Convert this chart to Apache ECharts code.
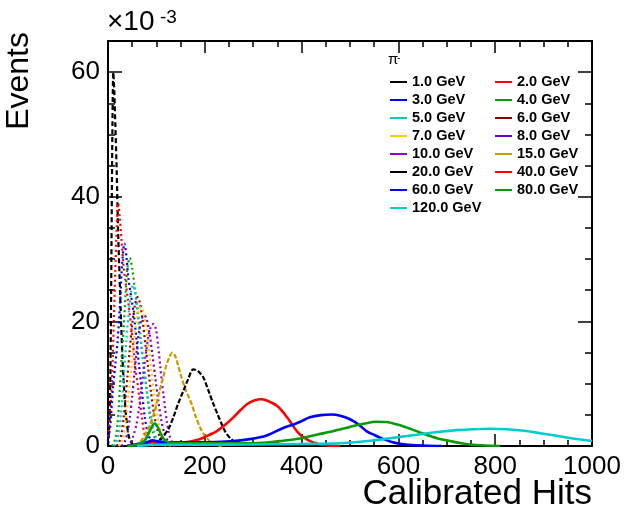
<!DOCTYPE html>
<html><head><meta charset="utf-8">
<script src="https://cdn.jsdelivr.net/npm/echarts@6/dist/echarts.min.js"></script>
<style>html,body{margin:0;padding:0;background:#fff}#c{width:628px;height:521px}</style>
</head><body><div id="c"></div>
<script>
// Values: x = calibrated hits, y = events in units of 1e-3
const seriesNames = ["1.0 GeV","2.0 GeV","3.0 GeV","4.0 GeV","5.0 GeV","6.0 GeV","7.0 GeV","8.0 GeV","10.0 GeV","15.0 GeV","20.0 GeV","40.0 GeV","60.0 GeV","80.0 GeV","120.0 GeV"];
const e1 = [[0,0],[3,4],[5,12],[7,30],[9,50],[11,60],[13,57],[15,52],[18,44],[21,34],[24,27],[27,20],[30,14],[33,9.5],[36,6],[40,3],[45,1],[52,0.2],[60,0]];
const e2 = [[0,1.5],[4,5],[8,10],[12,20],[15,28],[18,35],[21,39],[24,37],[28,33],[32,29],[36,26.5],[42,23],[49,18.5],[56,13],[63,8.9],[70,4.6],[76,1.8],[84,0.5],[95,0]];
const e3 = [[0,0.5],[5,3.5],[10,9],[15,13],[20,17],[25,23],[29,29],[34,32.5],[38,30.5],[42,27],[49,23.4],[54,20.7],[59,17],[64,13],[70,8.9],[76,4.6],[83,1.9],[92,0.5],[102,0]];
const e4 = [[8,0],[12,0.5],[16,1.5],[19,3],[22,6],[25,10],[28,14],[32,18.5],[36,24],[40,28.5],[45,30.2],[50,28.5],[55,25.5],[60,22.2],[66,18],[73,13.2],[80,8.9],[87,4.6],[93,2.2],[100,0.8],[110,0.2],[120,0]];
const e5 = [[12,0],[17,0.6],[22,2],[26,4.5],[30,8],[34,12.5],[38,17],[43,21.5],[48,24.8],[52,25.8],[57,24.5],[62,21.5],[68,17],[74,13],[80,9],[87,5.5],[94,2.8],[101,1.1],[110,0.3],[120,0]];
const e6 = [[18,0],[23,0.6],[28,2],[32,4.3],[36,7.5],[40,11],[45,15.5],[50,19.5],[56,22.8],[61,23.9],[66,23],[71,20.5],[77,16.5],[83,12.5],[89,8.5],[95,5.2],[102,2.6],[110,1],[120,0.2],[130,0]];
const e7 = [[22,0],[28,0.6],[33,2],[37,4.2],[42,7.5],[47,11.5],[52,15.5],[57,19],[63,21.6],[68,22.3],[73,21.6],[79,19],[85,15],[91,11],[97,7.3],[103,4.3],[110,2],[118,0.7],[128,0.1],[135,0]];
const e8 = [[28,0],[34,0.6],[40,2],[45,4.5],[50,8],[55,12],[60,15.8],[65,18.8],[70,20.5],[75,21],[80,20.3],[86,18],[92,14.5],[98,10.8],[104,7.2],[110,4.2],[116,2.2],[124,0.8],[133,0.1],[140,0]];
const e10 = [[40,0],[47,0.6],[53,1.8],[59,3.5],[64,6],[69,9],[74,12.3],[79,15.3],[84,17.8],[89,19.2],[94,19.6],[99,18.8],[104,15.8],[108,12.8],[111,10.5],[115,8],[118,6],[122,3.8],[126,2],[131,0.8],[138,0.2],[145,0]];
const e15 = [[55,0],[62,0.3],[68,0.8],[75,1.6],[81,2.5],[87,3.5],[94,5],[100,6.7],[107,9],[114,11],[120,12.8],[127,14.3],[133,15],[139,14.4],[145,12.9],[152,11],[159,9.3],[166,8],[173,6.7],[181,4.8],[190,3],[197,2],[204,1.3],[214,0.5],[225,0.1],[235,0]];
const e20 = [[50,0],[60,0.1],[70,0.2],[80,0.3],[90,0.5],[97,0.6],[105,0.9],[114,1.6],[124,2.6],[135,4.6],[145,6.8],[156,8.9],[166,10.8],[176,12.3],[186,12],[197,11],[207,9],[218,6.7],[227,5],[235,3.5],[243,2.2],[252,1.3],[259,0.8],[266,0.5],[280,0.1],[295,0]];
const e40 = [[60,0.1],[80,0.4],[90,0.6],[100,0.5],[120,0.4],[140,0.45],[160,0.6],[175,0.8],[190,1.1],[207,1.7],[225,2.4],[242,3.4],[259,4.6],[273,5.7],[287,6.7],[302,7.3],[318,7.5],[334,7.1],[349,6.45],[360,5.6],[370,4.6],[380,3.5],[390,2.4],[400,1.6],[410,1.1],[420,0.7],[431,0.4],[445,0.15],[460,0.05],[480,0]];
const e60 = [[40,0],[60,0.3],[80,0.6],[92,0.9],[105,0.7],[130,0.6],[160,0.6],[190,0.6],[220,0.65],[259,0.8],[293,1.1],[328,1.7],[362,2.9],[385,3.5],[400,4.0],[417,4.6],[440,4.95],[462,5.05],[480,4.85],[500,4.3],[517,3.5],[534,2.4],[552,1.7],[569,1.1],[586,0.65],[603,0.37],[620,0.2],[638,0.1],[660,0.03],[690,0]];
const e80 = [[40,0],[60,0.2],[75,0.8],[85,2.2],[92,3.3],[97,3.6],[103,3],[110,1.8],[118,0.9],[130,0.5],[160,0.45],[200,0.45],[250,0.45],[293,0.45],[328,0.55],[362,0.85],[397,1.2],[431,1.8],[466,2.4],[500,3.06],[530,3.6],[555,3.9],[575,3.85],[600,3.4],[625,2.75],[651,2.0],[680,1.25],[707,0.8],[730,0.45],[755,0.2],[780,0.08],[810,0]];
const e120 = [[60,0],[100,0.2],[200,0.2],[300,0.25],[400,0.33],[479,0.43],[548,0.9],[583,1.25],[617,1.6],[650,1.95],[686,2.3],[720,2.55],[755,2.7],[790,2.78],[824,2.7],[860,2.45],[893,2.05],[927,1.65],[961,1.2],[1000,0.8]];
const seriesData = [e1,e2,e3,e4,e5,e6,e7,e8,e10,e15,e20,e40,e60,e80,e120];
const xTicks = [0,200,400,600,800,1000];
const yTicks = [0,20,40,60];

const seriesColors = ["#000000","#ff0000","#0000ff","#0a9a0a","#00cccc","#990000","#ffcc00","#6600cc","#9900cc","#cc9900","#000000","#ff0000","#0000ff","#0a9a0a","#00cccc"];
const seriesDash = [[5,3],[2,3],[2,3],[2,3],[2,3],[2,3],[2,3],[2,3],[2,3],[5,2],[5,2],'solid','solid','solid','solid'];
const FONT = 'Liberation Sans, Arial, sans-serif';

const chart = echarts.init(document.getElementById('c'), null, {renderer:'canvas'});
const axisLine = {show:true, onZero:false, lineStyle:{color:'#000', width:2}};
const tickStyle = {color:'#000', width:1.5};
function xAx(pos, labels){
  return {type:'value', gridIndex:0, min:0, max:1000, interval:200, position:pos,
    axisLine:axisLine, splitLine:{show:false},
    axisTick:{show:true, inside:true, length:12, lineStyle:tickStyle},
    minorTick:{show:true, splitNumber:4, length:6, lineStyle:tickStyle},
    axisLabel:{show:labels, fontSize:26, color:'#000', fontFamily:FONT, margin:8,
      formatter: v => xTicks.includes(v) ? String(v) : ''}};
}
function yAx(pos, major, labels){
  return {type:'value', gridIndex: major ? 1 : 0, min:0, max:65, interval: major ? 20 : 5, position:pos,
    axisLine: major ? {show:false} : axisLine, splitLine:{show:false},
    axisTick:{show:true, inside:true, length: major ? 14 : 7, lineStyle:tickStyle},
    axisLabel:{show:labels, fontSize:26, color:'#000', fontFamily:FONT, margin:8, showMaxLabel:false,
      formatter: v => yTicks.includes(v) ? String(v) : ''}};
}
const gridBox = {left:108, right:36, top:41, bottom:75, containLabel:false};
const option = {
  animation:false,
  backgroundColor:'#fff',
  grid:[Object.assign({}, gridBox), Object.assign({}, gridBox)],
  xAxis:[xAx('bottom', true), xAx('top', false), {type:'value', gridIndex:1, min:0, max:1000, show:false}],
  yAxis:[yAx('left', false, false), yAx('right', false, false), yAx('left', true, true), yAx('right', true, false)],
  legend:[
    {data:seriesNames.filter((n,i)=>i%2===0), orient:'vertical', left:390, top:73, padding:0, itemGap:0,
     itemWidth:17, itemHeight:2, icon:'rect', selectedMode:false, itemStyle:{borderWidth:0},
     textStyle:{fontSize:14.5, fontWeight:'bold', color:'#000', fontFamily:FONT, lineHeight:18}},
    {data:seriesNames.filter((n,i)=>i%2===1), orient:'vertical', left:495, top:73, padding:0, itemGap:0,
     itemWidth:17, itemHeight:2, icon:'rect', selectedMode:false, itemStyle:{borderWidth:0},
     textStyle:{fontSize:14.5, fontWeight:'bold', color:'#000', fontFamily:FONT, lineHeight:18}}
  ],
  series: seriesNames.map((n,i)=>({
    name:n, type:'line', data:seriesData[i], xAxisIndex:0, yAxisIndex:0,
    color:seriesColors[i], showSymbol:false, smooth:0.3, silent:true, z:2+i*0.01,
    lineStyle:{width: i>=11 ? 2.6 : 2.2, type:seriesDash[i], color:seriesColors[i]}
  })),
  graphic:[
    {type:'text', x:35, y:32, rotation:Math.PI/2, style:{text:'Events', font:'32px '+FONT, fill:'#000', textAlign:'right', textVerticalAlign:'bottom'}},
    {type:'text', x:592, y:477, style:{text:'Calibrated Hits', font:'35px '+FONT, fill:'#000', textAlign:'right', textVerticalAlign:'top'}},
    {type:'text', x:107, y:36, style:{text:'\u00d710', font:'28px '+FONT, fill:'#000', textAlign:'left', textVerticalAlign:'bottom'}},
    {type:'text', x:160, y:8, style:{text:'-3', font:'19px '+FONT, fill:'#000', textAlign:'left', textVerticalAlign:'top'}},
    {type:'text', x:388, y:67, style:{text:'\u03c0', font:'15px '+FONT, fill:'#000', textAlign:'left', textVerticalAlign:'bottom'}},
    {type:'text', x:397, y:53, style:{text:'-', font:'10px '+FONT, fill:'#000', textAlign:'left', textVerticalAlign:'top'}}
  ]
};
chart.setOption(option);
</script></body></html>
